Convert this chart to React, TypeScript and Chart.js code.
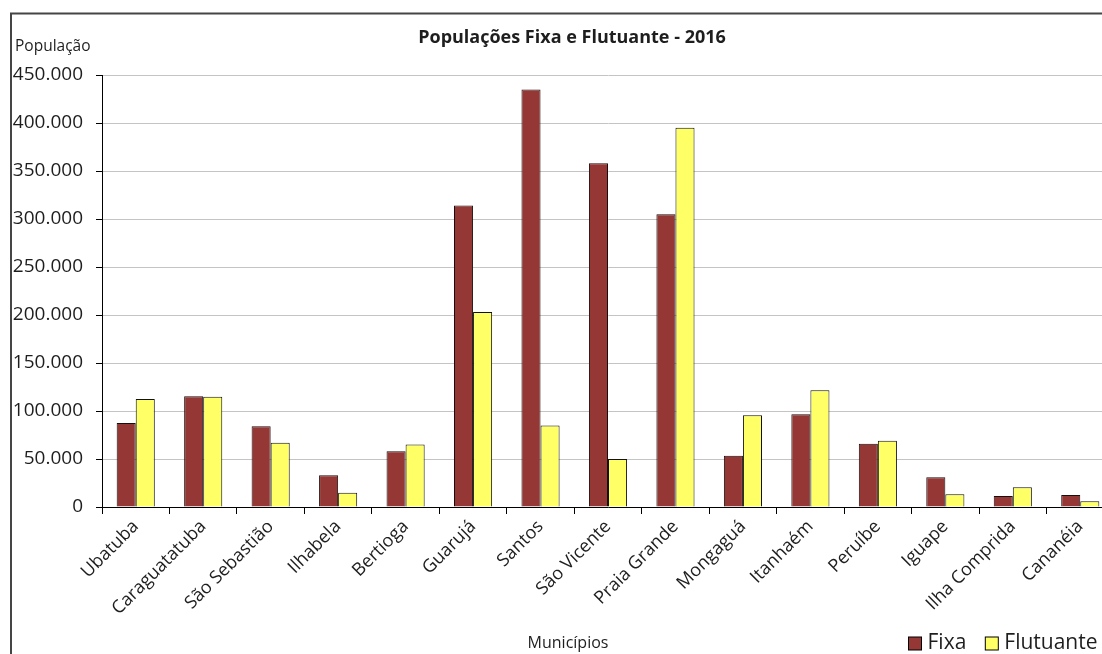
import React, { useEffect, useRef } from "react";
import { Chart, registerables } from "chart.js";

Chart.register(...registerables);

const municipios = [
  "Ubatuba",
  "Caraguatatuba",
  "São Sebastião",
  "Ilhabela",
  "Bertioga",
  "Guarujá",
  "Santos",
  "São Vicente",
  "Praia Grande",
  "Mongaguá",
  "Itanhaém",
  "Peruíbe",
  "Iguape",
  "Ilha Comprida",
  "Cananéia",
];

const fixa = [87600, 115300, 84000, 33000, 58000, 314000, 435000, 358000, 305000, 53500, 96500, 66000, 31000, 11400, 12400];
const flutuante = [112400, 114800, 67000, 14800, 65000, 203000, 85000, 50000, 395000, 95500, 121500, 69000, 13400, 20700, 5900];

const seriesLabels = ["Fixa", "Flutuante"];
const seriesColors = ["#953735", "#FFFF66"];
const chartTitle = "Populações Fixa e Flutuante - 2016";
const yAxisTitle = "População";
const xAxisTitle = "Municípios";
const yMax = 450000;
const yStep = 50000;

const FONT = '"Open Sans", sans-serif';
const TEXT = "#1e1e1e";

const fmt = (v: number) => String(Math.round(v)).replace(/\B(?=(\d{3})+(?!\d))/g, ".");

const decorPlugin = {
  id: "decor",
  beforeDraw(chart: any) {
    const ctx = chart.ctx;
    ctx.save();
    ctx.fillStyle = "#fff";
    ctx.fillRect(0, 0, chart.width, chart.height);
    ctx.strokeStyle = "#454545";
    ctx.lineWidth = 2;
    ctx.beginPath();
    ctx.moveTo(11, chart.height + 10);
    ctx.lineTo(11, 13.5);
    ctx.lineTo(chart.width + 10, 13.5);
    ctx.stroke();
    ctx.restore();
  },
  afterDraw(chart: any) {
    const ctx = chart.ctx;
    ctx.save();
    ctx.fillStyle = TEXT;
    ctx.textBaseline = "middle";
    // title
    ctx.font = `bold 18px ${FONT}`;
    ctx.textAlign = "center";
    ctx.fillText(chartTitle, 572, 38);
    // y axis title
    ctx.font = `15.5px ${FONT}`;
    ctx.textAlign = "left";
    ctx.fillText(yAxisTitle, 15, 47);
    // x axis title
    ctx.font = `16px ${FONT}`;
    ctx.textAlign = "center";
    ctx.fillText(xAxisTitle, 568, 643);
    // legend
    ctx.font = `21px ${FONT}`;
    ctx.textAlign = "left";
    let x = 908.5;
    const yMid = 643;
    chart.data.datasets.forEach((ds: any) => {
      ctx.fillStyle = ds.backgroundColor;
      ctx.fillRect(x, yMid - 6, 13, 13);
      ctx.strokeStyle = "#000";
      ctx.lineWidth = 1;
      ctx.strokeRect(x, yMid - 6, 13, 13);
      ctx.fillStyle = TEXT;
      const tx = x + 13 + 6;
      ctx.fillText(ds.label, tx, yMid);
      x = tx + ctx.measureText(ds.label).width + 19;
    });
    ctx.restore();
  },
};

export default function App() {
  const ref = useRef<HTMLCanvasElement | null>(null);

  useEffect(() => {
    if (!ref.current) return;
    const chart = new Chart(ref.current, {
      type: "bar",
      data: {
        labels: municipios,
        datasets: [
          {
            label: seriesLabels[0],
            data: fixa,
            backgroundColor: seriesColors[0],
            borderColor: "#1a0d0d",
            borderWidth: 1,
          },
          {
            label: seriesLabels[1],
            data: flutuante,
            backgroundColor: seriesColors[1],
            borderColor: "#111",
            borderWidth: 1,
          },
        ],
      },
      options: {
        responsive: false,
        animation: false,
        devicePixelRatio: 1,
        layout: { padding: { left: 12, top: 75, right: 0, bottom: 0 } },
        datasets: {
          bar: { categoryPercentage: 0.565, barPercentage: 1 },
        },
        plugins: {
          legend: { display: false },
          title: { display: false },
          tooltip: { enabled: false },
        },
        scales: {
          x: {
            offset: true,
            grid: {
              offset: true,
              drawOnChartArea: false,
              drawTicks: true,
              tickLength: 7,
              tickColor: "#000",
            },
            border: { color: "#000", width: 1 },
            ticks: {
              autoSkip: false,
              maxRotation: 45,
              minRotation: 45,
              padding: 2,
              color: TEXT,
              font: { family: FONT, size: 18 },
            },
            afterFit: (scale: any) => {
              scale.height = 147;
            },
          },
          y: {
            min: 0,
            max: yMax,
            ticks: {
              stepSize: yStep,
              padding: 13,
              color: TEXT,
              font: { family: FONT, size: 19 },
              callback: (v: any) => fmt(Number(v)),
            },
            grid: {
              color: "#c4c4c4",
              lineWidth: 1,
              tickColor: "#000",
              tickLength: 6,
            },
            border: { color: "#000", width: 1 },
            afterFit: (scale: any) => {
              scale.width = 90;
            },
          },
        },
      },
      plugins: [decorPlugin],
    } as any);
    return () => chart.destroy();
  }, []);

  return (
    <div
      style={{
        position: "fixed",
        left: 0,
        top: 0,
        width: 1102,
        height: 654,
        overflow: "hidden",
        background: "#fff",
      }}
    >
      <canvas ref={ref} width={1114} height={654} style={{ display: "block" }} />
    </div>
  );
}
